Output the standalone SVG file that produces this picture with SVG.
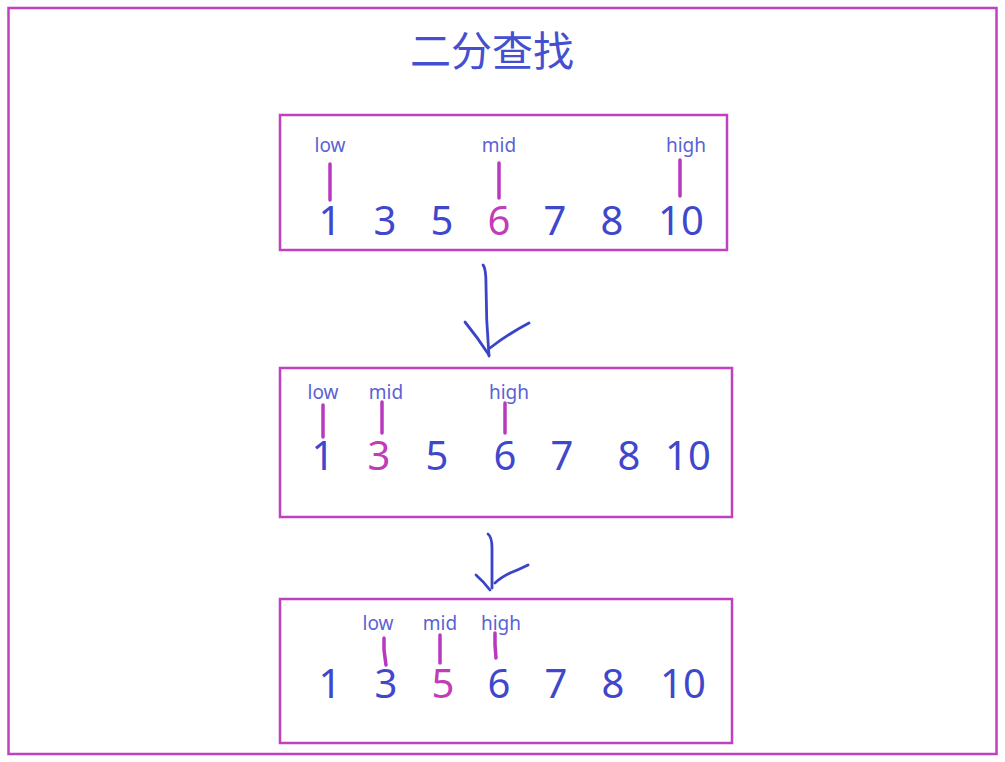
<svg xmlns="http://www.w3.org/2000/svg" width="1005" height="762" viewBox="0 0 1005 762">
<style>
.frame{fill:none;stroke:#c040c0;stroke-width:2.5}
.num{font-family:"Noto Sans","Open Sans",sans-serif;font-size:40px;fill:#3f48cc;text-anchor:middle}
.hl{fill:#c23cb8}
.lbl{font-family:"Noto Sans","Open Sans",sans-serif;font-size:19px;fill:#5a62d4;text-anchor:middle}
.tick{stroke:#b838c0;stroke-width:3.5;stroke-linecap:round;fill:none}
.arrow{stroke:#3a44c8;stroke-width:2.8;stroke-linecap:round;stroke-linejoin:round;fill:none}
.title{font-family:"Noto Sans CJK SC",sans-serif;font-size:41px;fill:#4450d0;text-anchor:middle;font-weight:400}
</style>
<rect width="1005" height="762" fill="#ffffff"/>
<rect class="frame" x="8.5" y="8" width="988" height="746"/>
<text class="title" x="492" y="66">二分查找</text>

<g id="step1">
<rect class="frame" x="280" y="115" width="447" height="135"/>
<text class="lbl" x="330" y="152">low</text>
<text class="lbl" x="499" y="152">mid</text>
<text class="lbl" x="686" y="152">high</text>
<line class="tick" x1="330" y1="164" x2="330" y2="200"/>
<line class="tick" x1="499" y1="163" x2="499" y2="198"/>
<line class="tick" x1="680" y1="160" x2="680" y2="196"/>
<text class="num" x="330" y="235">1</text>
<text class="num" x="385" y="235">3</text>
<text class="num" x="442" y="235">5</text>
<text class="num hl" x="499" y="235">6</text>
<text class="num" x="555" y="235">7</text>
<text class="num" x="612" y="235">8</text>
<text class="num" x="681" y="235">10</text>
</g>

<g id="step2">
<rect class="frame" x="280" y="368" width="452" height="149"/>
<text class="lbl" x="323" y="399">low</text>
<text class="lbl" x="386" y="399">mid</text>
<text class="lbl" x="509" y="399">high</text>
<line class="tick" x1="323" y1="405" x2="323" y2="437"/>
<line class="tick" x1="382" y1="402" x2="382" y2="433"/>
<line class="tick" x1="505" y1="403" x2="505" y2="433"/>
<text class="num" x="323" y="470">1</text>
<text class="num hl" x="379" y="470">3</text>
<text class="num" x="437" y="470">5</text>
<text class="num" x="505" y="470">6</text>
<text class="num" x="562" y="470">7</text>
<text class="num" x="629" y="470">8</text>
<text class="num" x="688" y="470">10</text>
</g>

<g id="step3">
<rect class="frame" x="280" y="599" width="452" height="144"/>
<text class="lbl" x="378" y="630">low</text>
<text class="lbl" x="440" y="630">mid</text>
<text class="lbl" x="501" y="630">high</text>
<path class="tick" d="M384 638 L384 650 L386 665"/>
<line class="tick" x1="440" y1="635" x2="440" y2="663"/>
<path class="tick" d="M495 633 L495 645 L496 658"/>
<text class="num" x="330" y="698">1</text>
<text class="num" x="386" y="698">3</text>
<text class="num hl" x="443" y="698">5</text>
<text class="num" x="499" y="698">6</text>
<text class="num" x="556" y="698">7</text>
<text class="num" x="613" y="698">8</text>
<text class="num" x="683" y="698">10</text>
</g>

<g id="connectors">
<path class="arrow" d="M483 265 Q486 268 486 285 Q486 320 489 356"/>
<path class="arrow" d="M465 322 Q478 338 489 355"/>
<path class="arrow" d="M490 348 Q508 334 529 323"/>
<path class="arrow" d="M488 534 Q492 537 492 548 L492 588"/>
<path class="arrow" d="M476 575 Q484 582 490 590"/>
<path class="arrow" d="M495 583 Q500 578 510 573 Q518 570 528 565"/>
</g>
</svg>
